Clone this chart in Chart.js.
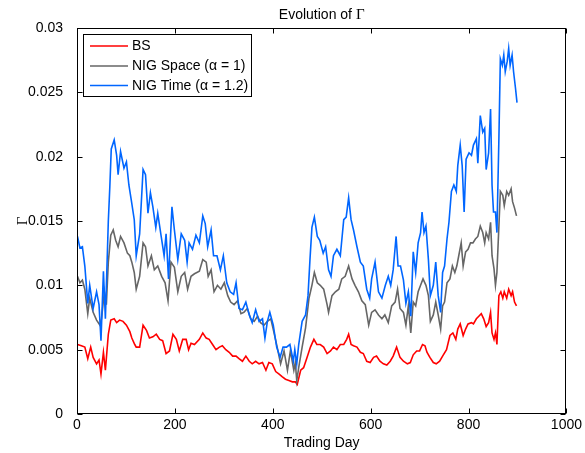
<!DOCTYPE html>
<html lang="en">
<head>
<meta charset="UTF-8">
<title>Evolution of Γ</title>
<script src="https://cdn.jsdelivr.net/npm/chart.js@4.4.1/dist/chart.umd.min.js"></script>
<style>
  html, body { margin: 0; padding: 0; background: #fff; }
</style>
</head>
<body>
<canvas id="myChart" width="585" height="453"></canvas>
<script>
// values (trading day, gamma)
const bsDay = [
  1, 9, 16, 22, 28, 33, 40, 45, 49, 54,
  58, 64, 69, 76, 81, 87, 94, 101, 108, 112,
  118, 121, 128, 135, 142, 148, 155, 162, 169, 175,
  182, 189, 196, 203, 209, 216, 223, 228, 233, 240,
  250, 257, 264, 270, 277, 284, 291, 297, 304, 311,
  318, 325, 331, 338, 345, 352, 358, 365, 372, 379,
  386, 392, 399, 406, 413, 419, 426, 433, 440, 446,
  450, 457, 463, 470, 477, 484, 490, 497, 504, 511,
  518, 524, 531, 538, 545, 551, 555, 560, 565, 572,
  579, 585, 592, 599, 606, 612, 619, 626, 633, 640,
  646, 653, 660, 667, 675, 681, 687, 694, 700, 706,
  711, 715, 721, 728, 734, 741, 747, 755, 762, 768,
  774, 778, 783, 789, 794, 799, 806, 810, 816, 821,
  826, 831, 836, 841, 845, 848, 852, 855, 858, 862,
  866, 870, 873, 878, 882, 887, 890, 894, 898
];
const bsGamma = [
  0.0054, 0.0053, 0.0052, 0.0043, 0.0052, 0.0044, 0.0039, 0.0042, 0.0031, 0.0048,
  0.0034, 0.0062, 0.0073, 0.0074, 0.0071, 0.0073, 0.0072, 0.0069, 0.0064, 0.0059,
  0.0054, 0.0052, 0.0052, 0.0069, 0.0065, 0.0059, 0.0060, 0.0062, 0.0058, 0.0057,
  0.0047, 0.0049, 0.0062, 0.0058, 0.0049, 0.0058, 0.0058, 0.0050, 0.0055, 0.0054,
  0.0058, 0.0063, 0.0059, 0.0058, 0.0054, 0.0050, 0.0052, 0.0053, 0.0050, 0.0048,
  0.0045, 0.0045, 0.0043, 0.0041, 0.0045, 0.0041, 0.0039, 0.0041, 0.0039, 0.0040,
  0.0034, 0.0040, 0.0039, 0.0033, 0.0031, 0.0029, 0.0027, 0.0026, 0.0025, 0.0025,
  0.0023, 0.0034, 0.0036, 0.0044, 0.0052, 0.0058, 0.0054, 0.0054, 0.0052, 0.0047,
  0.0049, 0.0052, 0.0050, 0.0054, 0.0054, 0.0058, 0.0062, 0.0054, 0.0053, 0.0052,
  0.0048, 0.0047, 0.0041, 0.0040, 0.0044, 0.0045, 0.0041, 0.0039, 0.0038, 0.0041,
  0.0045, 0.0052, 0.0044, 0.0041, 0.0039, 0.0040, 0.0046, 0.0049, 0.0049, 0.0054,
  0.0053, 0.0048, 0.0044, 0.0040, 0.0039, 0.0041, 0.0045, 0.0050, 0.0061, 0.0063,
  0.0058, 0.0066, 0.0070, 0.0061, 0.0066, 0.0070, 0.0071, 0.0070, 0.0074, 0.0076,
  0.0078, 0.0074, 0.0068, 0.0071, 0.0079, 0.0063, 0.0058, 0.0063, 0.0054, 0.0092,
  0.0095, 0.0090, 0.0095, 0.0090, 0.0097, 0.0092, 0.0095, 0.0087, 0.0084
];

const spaceDay = [
  1, 6, 11, 16, 22, 26, 33, 40, 47, 50,
  56, 60, 64, 69, 74, 79, 84, 89, 96, 103,
  108, 112, 117, 121, 128, 135, 140, 145, 152, 158,
  165, 173, 180, 186, 192, 199, 206, 213, 220, 226,
  233, 240, 250, 257, 264, 268, 274, 280, 287, 294,
  301, 308, 314, 321, 328, 335, 341, 348, 355, 362,
  369, 375, 382, 389, 396, 402, 409, 416, 423, 430,
  436, 443, 446, 449, 453, 460, 467, 474, 480, 485,
  491, 497, 504, 511, 514, 521, 528, 535, 541, 548,
  555, 562, 568, 575, 582, 589, 596, 602, 609, 616,
  623, 629, 636, 643, 650, 655, 660, 667, 672, 677,
  682, 687, 692, 697, 702, 707, 713, 718, 722, 728,
  733, 738, 743, 747, 751, 756, 762, 767, 772, 776,
  780, 785, 789, 794, 799, 804, 809, 814, 819, 824,
  829, 833, 836, 841, 845, 848, 852, 855, 858, 862,
  865, 870, 873, 878, 882, 887, 890, 894, 898
];
const spaceGamma = [
  0.0107, 0.0102, 0.0104, 0.0097, 0.0078, 0.0090, 0.0079, 0.0073, 0.0069, 0.0074,
  0.0095, 0.0085, 0.0118, 0.0139, 0.0143, 0.0135, 0.0130, 0.0138, 0.0133, 0.0125,
  0.0123, 0.0118, 0.0110, 0.0097, 0.0107, 0.0133, 0.0130, 0.0115, 0.0123, 0.0112,
  0.0115, 0.0107, 0.0102, 0.0088, 0.0118, 0.0114, 0.0095, 0.0107, 0.0110, 0.0097,
  0.0107, 0.0109, 0.0111, 0.0120, 0.0118, 0.0107, 0.0112, 0.0095, 0.0100, 0.0097,
  0.0102, 0.0092, 0.0087, 0.0085, 0.0088, 0.0078, 0.0079, 0.0082, 0.0074, 0.0072,
  0.0076, 0.0071, 0.0069, 0.0072, 0.0074, 0.0064, 0.0052, 0.0039, 0.0049, 0.0034,
  0.0049, 0.0034, 0.0040, 0.0026, 0.0036, 0.0052, 0.0067, 0.0090, 0.0100, 0.0110,
  0.0102, 0.0100, 0.0097, 0.0085, 0.0079, 0.0092, 0.0095, 0.0097, 0.0105, 0.0107,
  0.0115, 0.0105, 0.0100, 0.0095, 0.0088, 0.0085, 0.0069, 0.0079, 0.0081, 0.0077,
  0.0074, 0.0077, 0.0071, 0.0084, 0.0087, 0.0097, 0.0082, 0.0079, 0.0069, 0.0084,
  0.0063, 0.0087, 0.0084, 0.0095, 0.0100, 0.0105, 0.0100, 0.0092, 0.0072, 0.0077,
  0.0087, 0.0077, 0.0066, 0.0084, 0.0087, 0.0102, 0.0105, 0.0115, 0.0110, 0.0115,
  0.0123, 0.0133, 0.0115, 0.0126, 0.0128, 0.0133, 0.0133, 0.0136, 0.0138, 0.0146,
  0.0141, 0.0133, 0.0141, 0.0136, 0.0149, 0.0123, 0.0113, 0.0100, 0.0110, 0.0146,
  0.0173, 0.0170, 0.0162, 0.0173, 0.0170, 0.0175, 0.0165, 0.0160, 0.0154
];

const timeDay = [
  1, 6, 11, 16, 22, 26, 33, 40, 45, 49,
  54, 58, 64, 67, 70, 76, 81, 84, 89, 96,
  101, 106, 111, 117, 121, 128, 135, 140, 145, 150,
  155, 161, 165, 172, 178, 182, 187, 194, 199, 206,
  213, 220, 225, 229, 236, 243, 250, 257, 262, 267,
  274, 279, 286, 293, 299, 306, 313, 320, 325, 331,
  338, 345, 352, 358, 365, 372, 379, 384, 389, 394,
  401, 408, 415, 421, 428, 435, 442, 445, 449, 453,
  460, 467, 472, 476, 480, 485, 491, 496, 503, 508,
  514, 519, 524, 531, 538, 545, 550, 555, 560, 565,
  572, 579, 585, 592, 598, 602, 609, 616, 623, 630,
  636, 641, 646, 652, 656, 661, 667, 672, 677, 682,
  687, 692, 697, 702, 705, 709, 713, 718, 722, 728,
  733, 738, 743, 747, 751, 756, 760, 765, 770, 775,
  778, 783, 787, 791, 795, 801, 806, 810, 816, 819,
  824, 829, 833, 836, 841, 845, 848, 851, 855, 858,
  862, 865, 869, 872, 875, 879, 882, 885, 889, 892,
  896, 899
];
const timeGamma = [
  0.0138, 0.0129, 0.0130, 0.0115, 0.0086, 0.0100, 0.0082, 0.0095, 0.0085, 0.0057,
  0.0111, 0.0074, 0.0150, 0.0176, 0.0206, 0.0213, 0.0201, 0.0186, 0.0204, 0.0191,
  0.0196, 0.0178, 0.0166, 0.0151, 0.0123, 0.0140, 0.0190, 0.0186, 0.0156, 0.0172,
  0.0161, 0.0145, 0.0156, 0.0138, 0.0123, 0.0140, 0.0105, 0.0161, 0.0143, 0.0120,
  0.0140, 0.0135, 0.0118, 0.0133, 0.0128, 0.0139, 0.0133, 0.0154, 0.0148, 0.0130,
  0.0143, 0.0123, 0.0123, 0.0112, 0.0123, 0.0102, 0.0095, 0.0093, 0.0102, 0.0082,
  0.0081, 0.0087, 0.0077, 0.0071, 0.0081, 0.0072, 0.0074, 0.0059, 0.0072, 0.0079,
  0.0069, 0.0052, 0.0044, 0.0052, 0.0052, 0.0054, 0.0041, 0.0050, 0.0039, 0.0054,
  0.0072, 0.0077, 0.0092, 0.0120, 0.0145, 0.0153, 0.0138, 0.0135, 0.0125, 0.0130,
  0.0112, 0.0107, 0.0123, 0.0128, 0.0123, 0.0151, 0.0153, 0.0168, 0.0151, 0.0143,
  0.0130, 0.0118, 0.0115, 0.0097, 0.0090, 0.0105, 0.0118, 0.0095, 0.0090, 0.0100,
  0.0107, 0.0100, 0.0112, 0.0138, 0.0115, 0.0115, 0.0104, 0.0086, 0.0095, 0.0076,
  0.0126, 0.0110, 0.0133, 0.0141, 0.0157, 0.0141, 0.0146, 0.0120, 0.0092, 0.0100,
  0.0118, 0.0092, 0.0079, 0.0110, 0.0115, 0.0136, 0.0149, 0.0173, 0.0178, 0.0173,
  0.0193, 0.0209, 0.0193, 0.0157, 0.0198, 0.0203, 0.0201, 0.0209, 0.0214, 0.0195,
  0.0232, 0.0219, 0.0222, 0.0190, 0.0203, 0.0237, 0.0178, 0.0157, 0.0157, 0.0141,
  0.0214, 0.0276, 0.0271, 0.0279, 0.0266, 0.0274, 0.0284, 0.0271, 0.0279, 0.0266,
  0.0253, 0.0242
];

const seriesNames = ['BS', 'NIG Space (α = 1)', 'NIG Time (α = 1.2)'];
const xTicks = [0, 200, 400, 600, 800, 1000];
const yTicks = [0, 0.005, 0.01, 0.015, 0.02, 0.025, 0.03];

const SANS = '"Liberation Sans", Arial, Helvetica, sans-serif';
const SERIF = '"Liberation Serif", "Times New Roman", serif';
Chart.defaults.font.family = SANS;
Chart.defaults.font.size = 14;
Chart.defaults.color = '#000';

const toPoints = (days, vals) => days.map((d, i) => ({ x: d, y: vals[i] }));

// box, inward ticks, title and legend in the matlab way
const matlabFrame = {
  id: 'matlabFrame',
  afterDraw(chart) {
    const { ctx, chartArea: a, scales: { x, y } } = chart;
    ctx.save();
    ctx.strokeStyle = '#000';
    ctx.lineWidth = 1;
    const L = Math.round(a.left) + 0.5, R = Math.round(a.right) - 0.5;
    const T = Math.round(a.top) + 0.5, B = Math.round(a.bottom) - 0.5;
    ctx.strokeRect(L, T, R - L, B - T);
    const tl = 5;
    ctx.beginPath();
    xTicks.forEach(v => {
      const px = Math.round(x.getPixelForValue(v)) + 0.5;
      ctx.moveTo(px, B); ctx.lineTo(px, B - tl);
      ctx.moveTo(px, T); ctx.lineTo(px, T + tl);
    });
    yTicks.forEach(v => {
      const py = Math.round(y.getPixelForValue(v)) + 0.5;
      ctx.moveTo(L, py); ctx.lineTo(L + tl, py);
      ctx.moveTo(R, py); ctx.lineTo(R - tl, py);
    });
    ctx.stroke();

    // title: sans text with a serif Gamma
    ctx.fillStyle = '#000';
    ctx.textBaseline = 'alphabetic';
    ctx.textAlign = 'left';
    const head = 'Evolution of ';
    ctx.font = '14px ' + SANS;
    const w1 = ctx.measureText(head).width;
    ctx.font = '15px ' + SERIF;
    const w2 = ctx.measureText('Γ').width;
    const tx = (a.left + a.right) / 2 - (w1 + w2) / 2;
    ctx.font = '14px ' + SANS;
    ctx.fillText(head, tx, 19);
    ctx.font = '15px ' + SERIF;
    ctx.fillText('Γ', tx + w1, 19);

    // legend
    ctx.font = '14px ' + SANS;
    ctx.fillStyle = '#fff';
    ctx.fillRect(83.5, 34.5, 168, 62);
    ctx.strokeRect(83.5, 34.5, 168, 62);
    const rows = [46, 66, 85.5];
    const colors = ['#ff0000', '#666666', '#0066ff'];
    ctx.textBaseline = 'middle';
    seriesNames.forEach((name, i) => {
      ctx.strokeStyle = colors[i];
      ctx.lineWidth = 1.6;
      ctx.beginPath();
      ctx.moveTo(90, rows[i]);
      ctx.lineTo(128, rows[i]);
      ctx.stroke();
      ctx.fillStyle = '#000';
      ctx.fillText(name, 132, rows[i] + 0.5);
    });
    ctx.restore();
  }
};

const ctx = document.getElementById('myChart').getContext('2d');
const myChart = new Chart(ctx, {
  type: 'line',
  data: {
    datasets: [
      { label: seriesNames[0], data: toPoints(bsDay, bsGamma), borderColor: '#ff0000', order: 3 },
      { label: seriesNames[1], data: toPoints(spaceDay, spaceGamma), borderColor: '#666666', order: 2 },
      { label: seriesNames[2], data: toPoints(timeDay, timeGamma), borderColor: '#0066ff', order: 1 }
    ]
  },
  options: {
    responsive: false,
    animation: false,
    devicePixelRatio: 1,
    events: [],
    layout: { padding: { top: 28, right: 17, left: 0, bottom: 0 } },
    elements: {
      point: { radius: 0 },
      line: { borderWidth: 1.6, tension: 0, fill: false }
    },
    plugins: {
      legend: { display: false },
      title: { display: false },
      tooltip: { enabled: false }
    },
    scales: {
      x: {
        type: 'linear',
        min: 0,
        max: 1000,
        afterBuildTicks: s => { s.ticks = xTicks.map(v => ({ value: v })); },
        afterFit: s => { s.height = 39; },
        ticks: { callback: v => String(v), padding: 3, maxRotation: 0, font: { size: 14 } },
        grid: { display: false, drawTicks: false },
        border: { display: false },
        title: { display: true, text: 'Trading Day', font: { size: 14 }, padding: { top: 0, bottom: 1 } }
      },
      y: {
        type: 'linear',
        min: 0,
        max: 0.03,
        afterBuildTicks: s => { s.ticks = yTicks.map(v => ({ value: v })); },
        afterFit: s => { s.width = 77; },
        ticks: { callback: v => String(v), padding: 14, font: { size: 14 } },
        grid: { display: false, drawTicks: false },
        border: { display: false },
        title: { display: true, text: 'Γ', font: { size: 15, family: SERIF }, padding: { top: 13.6, bottom: 0 } }
      }
    }
  },
  plugins: [matlabFrame]
});
</script>
</body>
</html>
